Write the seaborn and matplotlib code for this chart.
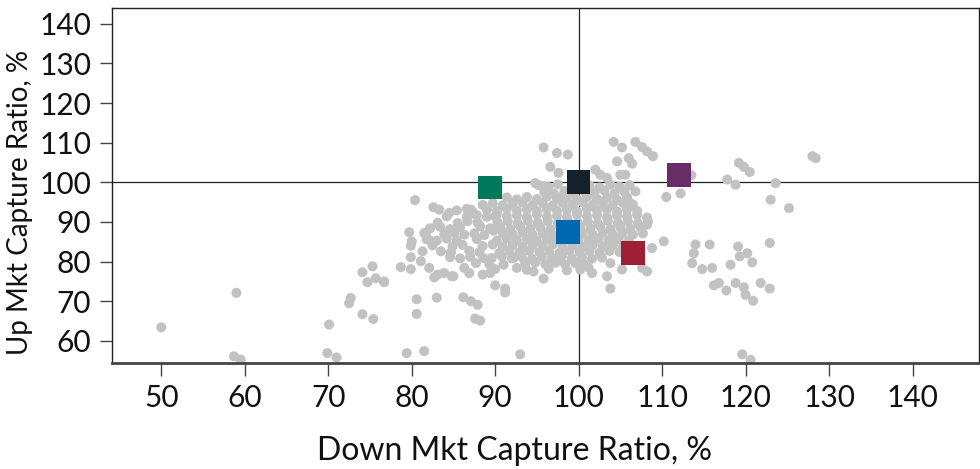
import matplotlib
matplotlib.use("Agg")
import matplotlib.pyplot as plt
import pandas as pd
import seaborn as sns

# peer universe (down capture, up capture)
peer_x = [
    # far-left / low outliers
    50.0, 59.0, 58.7, 59.5, 70.1, 69.9, 71.0, 72.5, 72.7, 74.1, 75.4, 74.1, 75.3, 75.7, 74.7, 76.7,
    78.7, 79.9, 79.4, 81.5, 80.6, 80.6, 83.0, 86.2, 87.1, 87.9, 87.6, 88.2, 93.0, 90.0, 91.2, 91.2,
    # left edge of the cloud
    80.4, 82.6, 83.3, 84.5, 87.1, 87.4, 89.0, 90.0, 89.8, 79.7, 80.0, 79.9, 81.3, 81.7, 82.2, 79.9,
    81.1, 82.1, 82.7, 83.9, 85.0, 86.3, 86.9, 88.5, 89.4, 88.6, 91.0, 92.6, 94.6, 92.2, 95.8, 97.6,
    103.4, 103.8, 105.2, 107.6, 108.2, 101.2, 101.6, 103.8, 108.2, 106.8, 106.1, 76.7, 83.1, 84.8,
    # upper group
    95.8, 97.4, 98.7, 104.2, 105.2, 106.8, 107.6, 108.2, 108.9, 96.6, 97.6, 104.6, 106.0, 106.4,
    105.0, 105.6, 102.0, 102.6, 103.4, 94.8, 95.8, 98.0,
    # right group
    113.5, 110.5, 112.2, 119.2, 119.8, 120.5, 117.8, 118.8, 123.6, 128.0, 128.4, 123.0, 125.2, 122.9,
    110.2, 108.8, 114.0, 115.7, 113.8, 113.6, 114.8, 116.0, 118.2, 119.1, 120.2, 120.8, 119.3, 116.2,
    116.8, 117.7, 118.8, 119.8, 120.0, 120.9, 121.8, 122.9, 119.6, 120.6,
    # dense core
    95.2, 96.4, 97.5, 101.3, 102.5, 103.8, 104.9, 106.1,
    95.9, 97.0, 98.3, 99.5, 100.7, 101.9, 103.1, 104.3, 105.5,
    91.4, 92.6, 93.8, 95.0, 96.2, 97.4, 98.6, 99.8, 101.0, 102.2, 103.4, 104.6, 105.8,
    88.5, 89.7, 90.9, 92.1, 93.3, 94.5, 95.7, 96.9, 98.1, 99.3, 100.5, 101.7, 102.9, 104.1, 105.3, 106.5,
    85.4, 86.6, 89.0, 90.2, 91.4, 92.6, 93.8, 95.0, 96.2, 97.4, 98.6, 99.8, 101.0, 102.2, 103.4, 104.6,
    105.8, 107.0,
    84.2, 86.6, 87.8, 89.0, 90.2, 91.4, 92.6, 93.8, 95.0, 96.2, 97.4, 98.6, 99.8, 101.0, 102.2, 103.4,
    104.6, 105.8, 107.0, 108.2,
    83.1, 85.5, 86.7, 87.9, 90.3, 91.5, 92.7, 93.9, 95.1, 96.3, 97.5, 98.7, 99.9, 101.1, 102.3, 103.5,
    104.7, 105.9, 107.1, 108.3,
    82.2, 83.4, 84.6, 85.8, 88.2, 89.4, 90.6, 91.8, 93.0, 94.2, 95.4, 96.6, 97.8, 99.0, 100.2, 101.4,
    102.6, 103.8, 105.0, 106.2, 107.4,
    81.5, 83.9, 85.1, 86.3, 87.5, 88.7, 90.9, 92.1, 93.3, 94.5, 95.7, 96.9, 100.5, 101.7, 102.9, 104.1,
    105.3, 106.5, 107.7,
    81.8, 83.0, 84.2, 85.4, 87.8, 90.2, 91.4, 92.6, 93.8, 95.0, 96.2, 97.4, 100.0, 101.2, 102.4, 103.6,
    104.8, 106.0,
    82.5, 84.9, 86.1, 88.5, 89.7, 90.9, 92.1, 93.3, 94.5, 95.7, 96.9, 98.1, 99.3, 100.5, 101.7, 102.9,
    104.1, 105.3,
    83.5, 84.7, 86.9, 88.1, 90.5, 91.7, 92.9, 94.1, 95.3, 96.5, 97.7, 98.9, 100.1, 101.3, 102.5, 103.7,
    104.9,
    84.6, 85.8, 87.0, 89.6, 90.8, 92.0, 93.2, 94.4, 95.6, 96.8, 98.0, 99.2, 100.4, 101.6, 102.8,
    87.7, 89.3, 93.6, 94.8, 96.0, 97.2, 98.4, 99.6, 100.6,
    90.0, 93.8, 96.4, 98.6, 100.2,
]
peer_y = [
    63.4, 72.1, 56.1, 55.3, 64.1, 56.9, 55.8, 69.5, 70.8, 66.7, 65.5, 77.3, 78.8, 75.8, 74.8, 74.8,
    78.6, 78.1, 56.9, 57.4, 70.5, 66.8, 70.9, 71.0, 70.0, 69.1, 65.6, 65.1, 56.6, 74.0, 73.2, 72.2,
    95.5, 93.7, 93.1, 92.3, 93.1, 92.3, 93.2, 91.4, 87.8, 87.4, 85.1, 84.0, 82.6, 86.9, 85.3, 81.1,
    80.1, 78.4, 76.0, 77.1, 76.3, 78.4, 77.1, 76.7, 77.1, 80.9, 79.2, 78.4, 77.5, 80.9, 75.7, 80.2,
    76.3, 73.2, 78.0, 78.4, 77.5, 78.4, 77.1, 79.6, 89.3, 97.7, 94.9, 75.0, 76.7, 76.3,
    108.8, 107.4, 107.0, 110.2, 108.8, 110.2, 108.9, 107.8, 106.6, 103.9, 102.4, 105.3, 106.1, 104.7,
    101.9, 101.9, 103.2, 101.9, 101.1, 99.8, 99.0, 96.5,
    101.8, 96.3, 97.2, 104.9, 103.9, 102.6, 100.7, 99.4, 99.8, 106.6, 106.1, 95.6, 93.5, 84.7,
    85.1, 83.4, 84.3, 84.3, 82.1, 79.6, 78.1, 78.4, 79.2, 83.8, 82.1, 79.8, 81.3, 74.0,
    74.6, 72.7, 74.6, 73.5, 71.6, 70.1, 74.6, 73.2, 56.6, 55.2,
    99.3, 98.8, 99.5, 99.2, 98.7, 99.4, 98.9, 99.3,
    97.6, 97.2, 97.8, 97.1, 97.6, 97.3, 97.9, 97.2, 97.6,
    96.2, 95.7, 96.3, 95.8, 96.4, 95.9, 96.2, 95.7, 96.3, 95.8, 96.1, 95.6, 96.2,
    94.3, 94.8, 94.2, 94.6, 94.9, 94.3, 94.7, 94.2, 94.8, 94.4, 94.9, 94.3, 94.6, 94.2, 94.8, 94.4,
    92.9, 93.3, 93.2, 92.8, 93.4, 92.9, 93.2, 92.7, 93.3, 92.8, 93.1, 92.7, 93.3, 92.9, 93.2, 92.6,
    93.1, 92.8,
    91.4, 91.2, 91.7, 91.3, 91.9, 91.4, 91.7, 91.2, 91.8, 91.3, 91.6, 91.2, 91.8, 91.4, 91.7, 91.2,
    91.6, 91.3, 91.8, 91.1,
    89.8, 89.7, 90.2, 89.8, 89.9, 90.2, 89.7, 90.3, 89.8, 90.2, 89.7, 90.3, 89.8, 90.1, 89.7, 90.3,
    89.8, 90.2, 89.7, 90.1,
    88.4, 88.8, 88.2, 88.7, 88.9, 88.4, 88.7, 88.2, 88.8, 88.3, 88.6, 88.2, 88.8, 88.4, 88.7, 88.3,
    88.8, 88.2, 88.7, 88.3, 88.6,
    87.2, 86.9, 87.3, 86.8, 87.1, 86.7, 87.2, 86.9, 87.3, 86.8, 87.1, 86.7, 87.0, 86.8, 87.3, 86.9,
    87.2, 86.8, 87.1,
    85.6, 85.3, 85.8, 85.4, 85.7, 85.3, 85.8, 85.4, 85.6, 85.2, 85.7, 85.4, 85.6, 85.3, 85.8, 85.4,
    85.7, 85.3,
    84.1, 83.8, 84.2, 83.9, 84.3, 83.8, 84.1, 83.7, 84.2, 83.9, 84.3, 83.8, 84.1, 83.7, 84.2, 83.9,
    84.1, 83.8,
    82.6, 82.3, 82.7, 82.4, 82.2, 82.6, 82.3, 82.7, 82.4, 82.6, 82.2, 82.7, 82.4, 82.6, 82.3, 82.7,
    82.4,
    81.1, 80.8, 81.2, 80.9, 81.3, 80.8, 81.1, 80.7, 81.2, 80.9, 81.3, 80.8, 81.1, 80.7, 81.0,
    79.6, 79.3, 79.5, 79.8, 79.4, 79.7, 79.3, 79.6, 79.4,
    78.1, 77.9, 78.2, 77.8, 78.0,
]

# highlighted funds
fund_names = ["Fund A", "Benchmark", "Fund B", "Fund C", "Fund D"]
fund_x = [89.4, 100.0, 112.0, 98.7, 106.5]
fund_y = [98.7, 100.0, 101.8, 87.4, 82.1]
fund_colors = ["#00795B", "#16202A", "#6A2C68", "#0067B1", "#9E1F34"]

x_ticks = [50, 60, 70, 80, 90, 100, 110, 120, 130, 140]
y_ticks = [60, 70, 80, 90, 100, 110, 120, 130, 140]

peers = pd.DataFrame({"down": peer_x, "up": peer_y})
funds = pd.DataFrame({"name": fund_names, "down": fund_x, "up": fund_y})

sns.set_style("ticks")
plt.rcParams["font.family"] = ["Lato", "DejaVu Sans"]

fig = plt.figure(figsize=(9.8, 4.69), dpi=100)
ax = fig.add_axes([0.1143, 0.226, 0.885, 0.757])

ax.axhline(100, color="#222222", lw=0.9, zorder=1)
ax.axvline(100, color="#222222", lw=0.9, zorder=1)

sns.scatterplot(data=peers, x="down", y="up", color="#C1C2C1", s=52,
                edgecolor="none", ax=ax, zorder=2)
sns.scatterplot(data=funds, x="down", y="up", hue="name", hue_order=fund_names,
                palette=fund_colors, marker="s", s=290, edgecolor="none",
                legend=False, ax=ax, zorder=3)

ax.set_xlim(44.1, 148.0)
ax.set_ylim(54.4, 144.0)
ax.set_xticks(x_ticks)
ax.set_yticks(y_ticks)
ax.tick_params(axis="both", labelsize=21.5, length=9, width=1, color="#444444",
               labelcolor="#111111", pad=6)

for side in ["top", "left", "right"]:
    ax.spines[side].set_color("#222222")
    ax.spines[side].set_linewidth(1)
ax.spines["bottom"].set_color("#444444")
ax.spines["bottom"].set_linewidth(2)

ax.set_xlabel("Down Mkt Capture Ratio, %", fontsize=23, color="#111111")
ax.set_ylabel("Up Mkt Capture Ratio, %", fontsize=20, color="#111111")
ax.xaxis.set_label_coords(0.4637, -0.205)
ax.yaxis.set_label_coords(-0.091, 0.452)

fig.savefig("out.png", dpi=100)
plt.close(fig)
